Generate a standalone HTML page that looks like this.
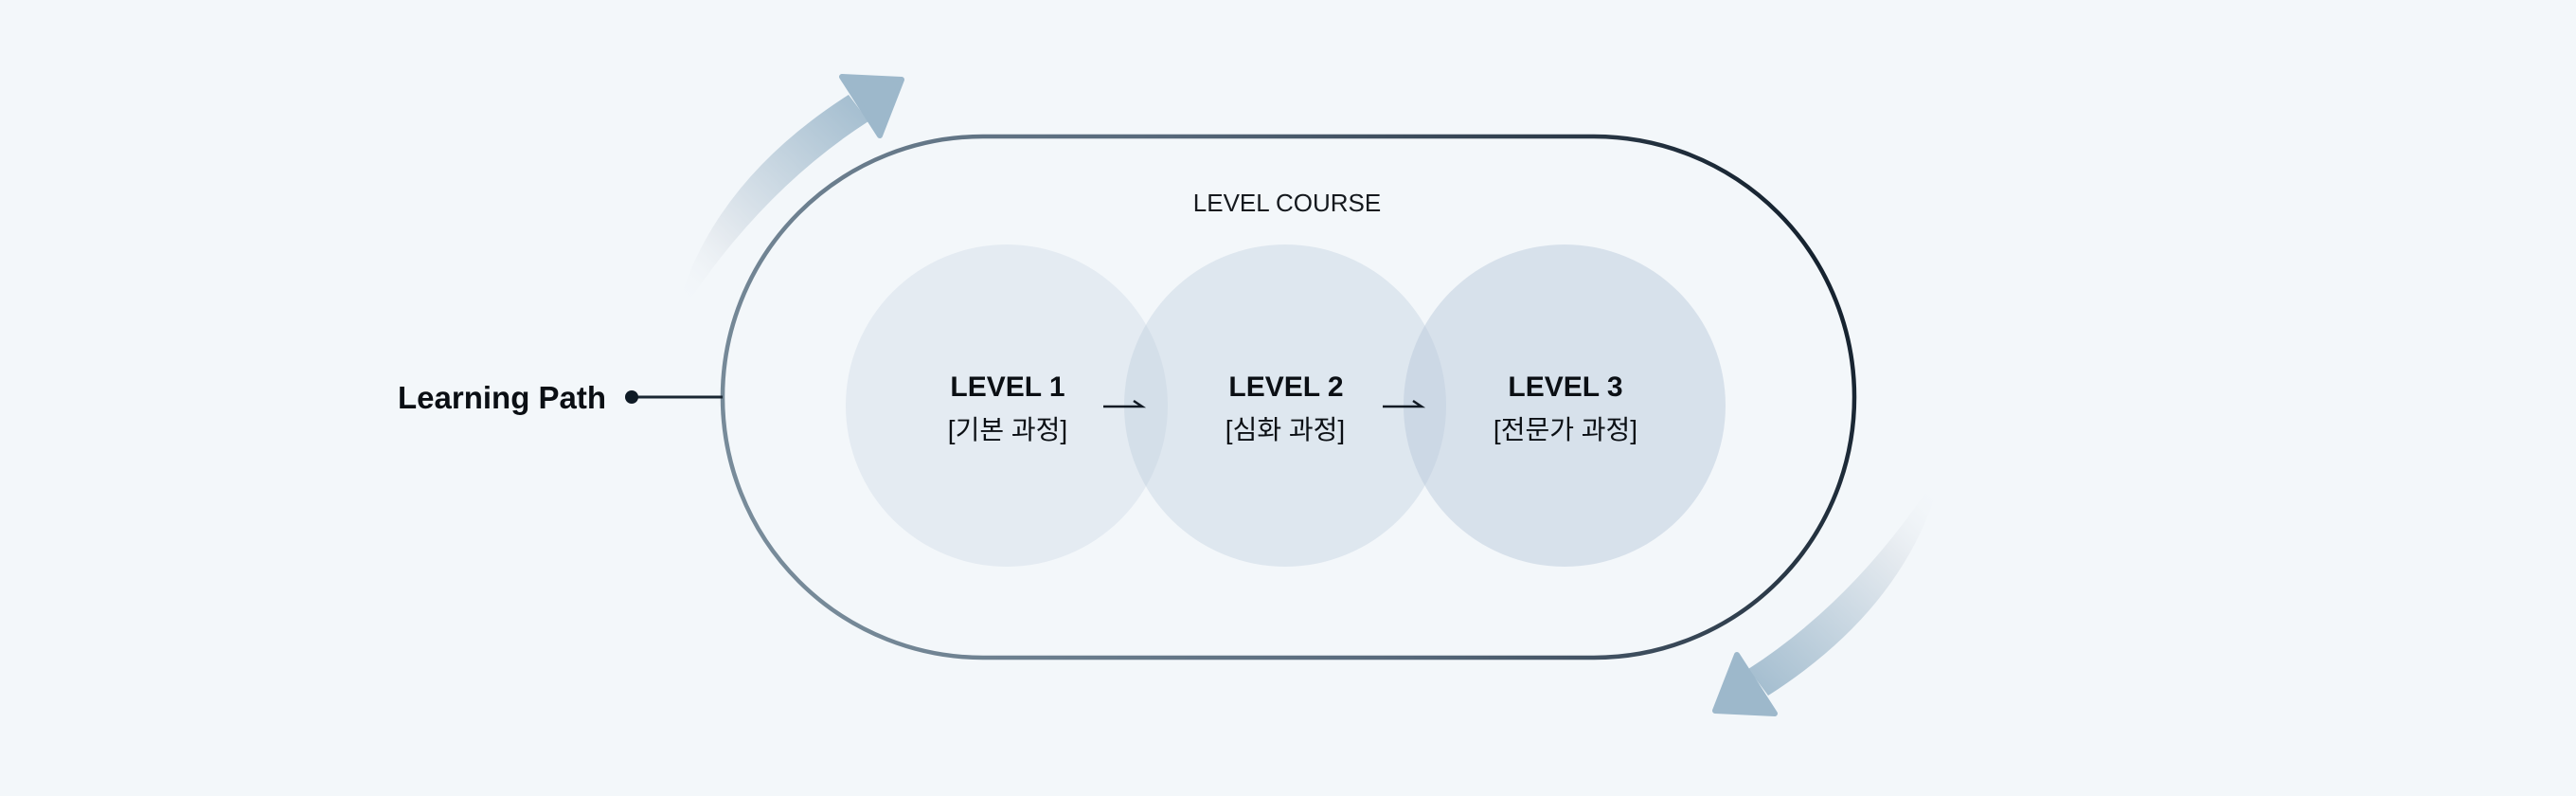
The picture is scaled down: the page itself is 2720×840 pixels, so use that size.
<!DOCTYPE html>
<html><head><meta charset="utf-8"><style>
html,body{margin:0;padding:0;background:#f3f7fa;}
svg{display:block;}
text{font-family:"Liberation Sans","Noto Sans CJK KR",sans-serif;}
</style></head><body>
<svg width="2720" height="840" viewBox="0 0 2720 840" xmlns="http://www.w3.org/2000/svg">
<defs>
<linearGradient id="st" x1="763" y1="694" x2="1958" y2="144" gradientUnits="userSpaceOnUse">
<stop offset="0" stop-color="#7d919f"/><stop offset="0.5" stop-color="#56687a"/><stop offset="1" stop-color="#0c1824"/>
</linearGradient>
<linearGradient id="ar" x1="718" y1="320" x2="940" y2="90" gradientUnits="userSpaceOnUse">
<stop offset="0" stop-color="#f3f7fa" stop-opacity="0"/><stop offset="0.25" stop-color="#e6ebf0"/><stop offset="1" stop-color="#99b6ca"/>
</linearGradient>
</defs>
<rect width="2720" height="840" fill="#f3f7fa"/>
<circle cx="1063" cy="428" r="170" fill="#b6c6da" fill-opacity="0.25"/>
<circle cx="1357" cy="428" r="170" fill="#b6c6da" fill-opacity="0.34"/>
<circle cx="1652" cy="428" r="170" fill="#b6c6da" fill-opacity="0.46"/>
<rect x="763" y="144" width="1195" height="550" rx="275" ry="275" fill="none" stroke="url(#st)" stroke-width="4.5"/>
<line x1="666" y1="419" x2="763" y2="419" stroke="#1a2733" stroke-width="3"/>
<circle cx="667" cy="419" r="7" fill="#0f1b26"/>
<text x="420" y="431" font-size="33" font-weight="600" fill="#0b0f14">Learning Path</text>
<g id="ca">
<path d="M716 322 Q755 190 896 100 L917 128 Q805 200 722 326 Z" fill="url(#ar)"/>
<path d="M889 81 L952 84 L929 143 Z" fill="#9db8cb" stroke="#9db8cb" stroke-width="6" stroke-linejoin="round"/>
</g>
<g transform="translate(43,-4)"><use href="#ca" transform="rotate(180 1360 419)"/></g>
<text x="1359" y="223" font-size="26" text-anchor="middle" fill="#15191e">LEVEL COURSE</text>
<g font-size="30" font-weight="700" text-anchor="middle" fill="#0b0f14">
<text x="1064" y="418">LEVEL 1</text>
<text x="1358" y="418">LEVEL 2</text>
<text x="1653" y="418">LEVEL 3</text>
</g>
<g font-size="28" text-anchor="middle" fill="#0b0f14">
<text x="1064" y="463">[기본 과정]</text>
<text x="1357" y="463">[심화 과정]</text>
<text x="1653" y="463">[전문가 과정]</text>
</g>
<g stroke="#111a24" stroke-width="2.5" fill="none">
<path d="M1165 429 H1206 L1197 423"/>
<path d="M1460 429 H1501 L1492 423"/>
</g>
</svg>
</body></html>
